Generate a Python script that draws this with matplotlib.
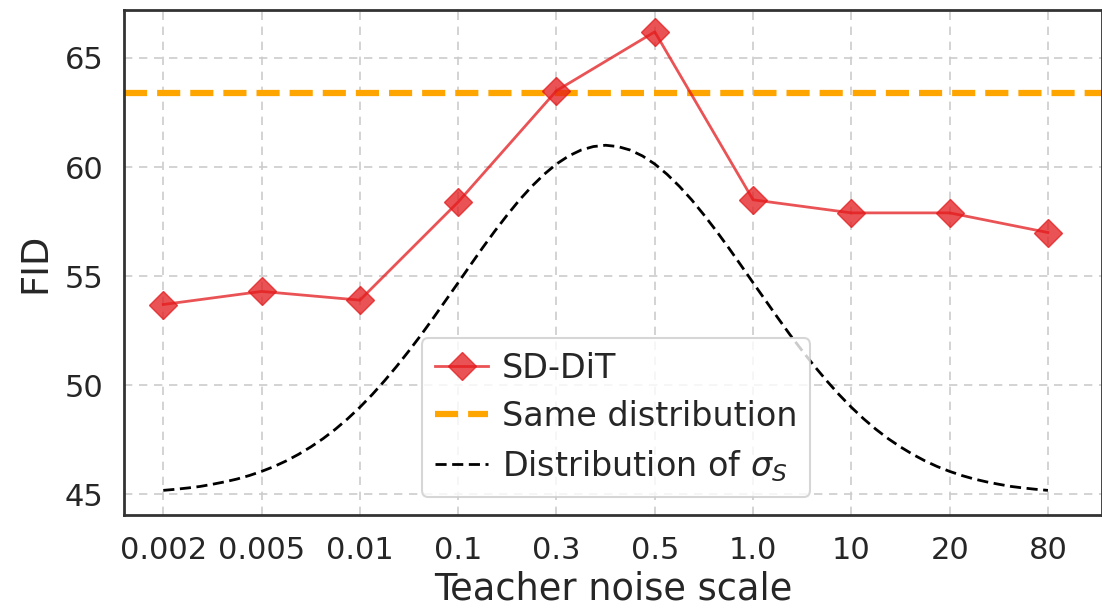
import matplotlib
matplotlib.use("Agg")
import matplotlib.pyplot as plt

# ---- data ----
noise_labels = ["0.002", "0.005", "0.01", "0.1", "0.3", "0.5", "1.0", "10", "20", "80"]
sd_dit_fid = [53.7, 54.3, 53.9, 58.4, 63.5, 66.2, 58.5, 57.9, 57.9, 57.0]
same_dist_fid = 63.4
# distribution of sigma_S (scaled curve), read at eighth-step positions
sigma_pos = [i * 0.125 for i in range(73)]
sigma_curve = [45.18, 45.23, 45.29, 45.36, 45.46, 45.57, 45.70, 45.86, 46.05,
               46.27, 46.53, 46.83, 47.17, 47.55, 47.98, 48.46, 48.99, 49.57,
               50.20, 50.87, 51.58, 52.32, 53.10, 53.90, 54.70, 55.51, 56.31,
               57.08, 57.81, 58.50, 59.12, 59.67, 60.14, 60.51, 60.78, 60.94,
               61.00,
               60.94, 60.78, 60.51, 60.14, 59.67, 59.12, 58.50, 57.81, 57.08,
               56.31, 55.51, 54.70, 53.90, 53.10, 52.32, 51.58, 50.87, 50.20,
               49.57, 48.99, 48.46, 47.98, 47.55, 47.17, 46.83, 46.53, 46.27,
               46.05, 45.86, 45.70, 45.57, 45.46, 45.36, 45.29, 45.23, 45.18]

plt.rcParams['font.family'] = ['DejaVu Sans']
fig = plt.figure(figsize=(11.02, 6.10), dpi=100)
ax = fig.add_axes([0.1125, 0.1557, 0.8875, 0.8279])

x = list(range(len(noise_labels)))
ax.grid(True, linestyle=(0, (5, 4)), color='#cccccc', linewidth=1.2, zorder=0)
ax.set_axisbelow(True)

ax.plot(x, sd_dit_fid, color='#e41a1c', alpha=0.75, marker='D', markersize=14,
        linewidth=2, label='SD-DiT', zorder=3)
ax.axhline(same_dist_fid, color='#FFA500', linestyle='--', linewidth=4.5,
           label='Same distribution', zorder=2)
ax.plot(sigma_pos, sigma_curve, color='black', linestyle='--', linewidth=2,
        dashes=(4, 2), label=r'Distribution of $\sigma_S$', zorder=2)

ax.set_xlim(-0.4, 9.55)
ax.set_ylim(44.05, 67.2)
ax.set_xticks(x)
ax.set_xticklabels(noise_labels)
ax.set_yticks([45, 50, 55, 60, 65])
ax.tick_params(axis='both', length=0, labelsize=22, colors='#262626', pad=15)

ax.set_xlabel('Teacher noise scale', fontsize=26.5, color='#262626', labelpad=4)
ax.set_ylabel('FID', fontsize=26.5, color='#262626', labelpad=8)

for side in ['left', 'bottom', 'top', 'right']:
    ax.spines[side].set_color('#333333')
    ax.spines[side].set_linewidth(2)

leg = ax.legend(loc='lower center', bbox_to_anchor=(0.503, 0.036), borderaxespad=0,
                fontsize=24, handlelength=1.6, labelspacing=0.45, handletextpad=0.4,
                borderpad=0.4, framealpha=0.8, edgecolor='#cccccc', fancybox=True)
leg.get_frame().set_linewidth(1.5)
for t in leg.get_texts():
    t.set_color('#262626')

fig.savefig('out.png', dpi=100)
